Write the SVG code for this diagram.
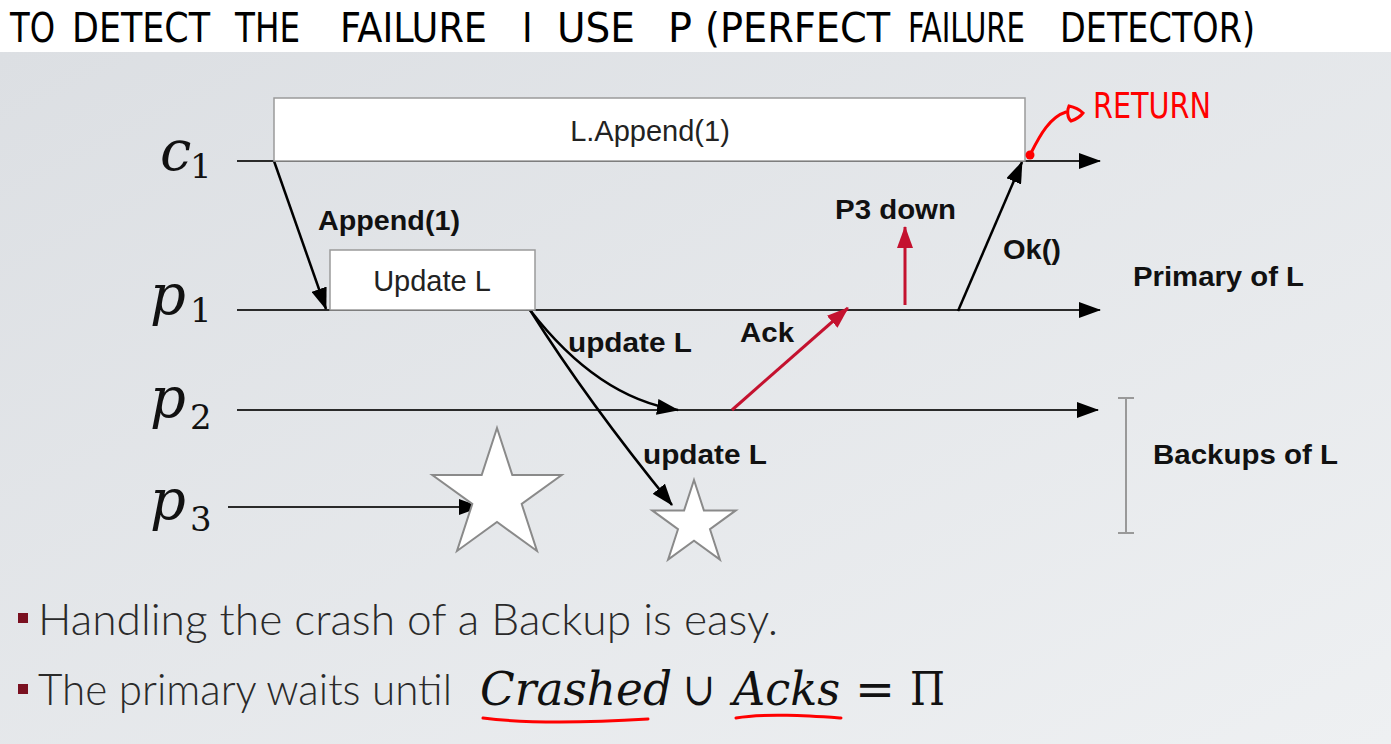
<svg xmlns="http://www.w3.org/2000/svg" width="1391" height="744" viewBox="0 0 1391 744">
<style>
.hand{font-family:"DejaVu Sans Condensed","DejaVu Sans","Liberation Sans",sans-serif;font-size:40px;fill:#000}
.math{font-family:"DejaVu Serif",serif;font-style:italic;fill:#111}
.sub{font-family:"DejaVu Serif",serif;font-style:normal;fill:#111}
.box{fill:#fff;stroke:#9a9a9a;stroke-width:1.5}
.boxt{font-family:"Liberation Sans",Arial,sans-serif;font-size:29px;fill:#222;text-anchor:middle}
.lbl{font-family:"Liberation Sans",Arial,sans-serif;font-size:27px;font-weight:bold;fill:#111}
.life{stroke:#2a2a2a;stroke-width:2;fill:none}
.msg{stroke:#000;stroke-width:2.5;fill:none}
.red{stroke:#c4122f;stroke-width:3;fill:none}
.star{fill:#fff;stroke:#8a8a8a;stroke-width:2}
.bul{font-family:"Lato","Liberation Sans",Arial,sans-serif;font-weight:300;font-size:44px;fill:#2a2a2a}
.pen{stroke:#f00;stroke-width:3;fill:none;stroke-linecap:round}
</style>
<defs>
<linearGradient id="bg" x1="0" y1="0" x2="1" y2="1">
<stop offset="0" stop-color="#dcdfe3"/>
<stop offset="1" stop-color="#eef0f2"/>
</linearGradient>
<marker id="ah" markerUnits="userSpaceOnUse" markerWidth="22" markerHeight="16" refX="21" refY="8" orient="auto"><path d="M0,0 L22,8 L0,16 z" fill="#000"/></marker>
<marker id="ahr" markerUnits="userSpaceOnUse" markerWidth="22" markerHeight="16" refX="21" refY="8" orient="auto"><path d="M0,0 L22,8 L0,16 z" fill="#c4122f"/></marker>
</defs>
<rect x="0" y="0" width="1391" height="52" fill="#fff"/>
<rect x="0" y="52" width="1391" height="692" fill="url(#bg)"/>
<g id="title">
<text class="hand" x="10" y="42" textLength="45" lengthAdjust="spacingAndGlyphs">TO</text>
<text class="hand" x="72" y="42" textLength="138" lengthAdjust="spacingAndGlyphs">DETECT</text>
<text class="hand" x="235" y="42" textLength="65" lengthAdjust="spacingAndGlyphs">THE</text>
<text class="hand" x="340" y="42" textLength="147" lengthAdjust="spacingAndGlyphs">FAILURE</text>
<text class="hand" x="522" y="42">I</text>
<text class="hand" x="557" y="42" textLength="78" lengthAdjust="spacingAndGlyphs">USE</text>
<text class="hand" x="668" y="42" textLength="24" lengthAdjust="spacingAndGlyphs">P</text>
<text class="hand" x="705" y="42" textLength="185" lengthAdjust="spacingAndGlyphs">(PERFECT</text>
<text class="hand" x="908" y="42" textLength="117" lengthAdjust="spacingAndGlyphs">FAILURE</text>
<text class="hand" x="1060" y="42" textLength="195" lengthAdjust="spacingAndGlyphs">DETECTOR)</text>
</g>
<g id="connectors">
<line class="life" x1="237" y1="161" x2="1100" y2="161" marker-end="url(#ah)"/>
<line class="life" x1="237" y1="310" x2="1100" y2="310" marker-end="url(#ah)"/>
<line class="life" x1="237" y1="410" x2="1098" y2="410" marker-end="url(#ah)"/>
<line class="life" x1="228" y1="507" x2="480" y2="507" marker-end="url(#ah)"/>
<line class="msg" x1="274" y1="161" x2="326" y2="309" marker-end="url(#ah)"/>
<path class="msg" d="M530,310 Q598,398 678,410" marker-end="url(#ah)"/>
<path class="msg" d="M530,310 Q588,402 672,505" marker-end="url(#ah)"/>
<line class="red" x1="732" y1="410" x2="848" y2="308" marker-end="url(#ahr)"/>
<line class="red" x1="905" y1="305" x2="905" y2="227" marker-end="url(#ahr)"/>
<line class="msg" x1="958" y1="311" x2="1022" y2="162" marker-end="url(#ah)"/>
</g>
<g id="c1">
<text class="math" x="160" y="170" font-size="56">c</text>
<text class="sub" x="190" y="178" font-size="34">1</text>
</g>
<g id="p1">
<text class="math" x="150" y="314" font-size="56">p</text>
<text class="sub" x="190" y="322" font-size="34">1</text>
</g>
<g id="p2">
<text class="math" x="150" y="417" font-size="56">p</text>
<text class="sub" x="190" y="429" font-size="34">2</text>
</g>
<g id="p3">
<text class="math" x="150" y="519" font-size="56">p</text>
<text class="sub" x="190" y="531" font-size="34">3</text>
</g>
<g id="append-box">
<rect class="box" x="274" y="98" width="751" height="63"/>
<text class="boxt" x="650" y="141">L.Append(1)</text>
</g>
<g id="update-box">
<rect class="box" x="330" y="250" width="205" height="60"/>
<text class="boxt" x="432" y="291">Update L</text>
</g>
<g id="big-star">
<path class="star" d="M497,428 L512.3,475 L561.7,475 L521.7,504 L537,551 L497,522 L457,551 L472.3,504 L432.3,475 L481.7,475 Z"/>
</g>
<g id="small-star">
<path class="star" d="M694,480 L703.9,510.4 L735.8,510.4 L710,529.2 L719.9,559.6 L694,540.8 L668.1,559.6 L678,529.2 L652.2,510.4 L684.1,510.4 Z"/>
</g>
<g id="labels">
<text class="lbl" x="318" y="230" textLength="142" lengthAdjust="spacingAndGlyphs">Append(1)</text>
<text class="lbl" x="568" y="352" textLength="124" lengthAdjust="spacingAndGlyphs">update L</text>
<text class="lbl" x="643" y="464" textLength="124" lengthAdjust="spacingAndGlyphs">update L</text>
<text class="lbl" x="740" y="342" textLength="54" lengthAdjust="spacingAndGlyphs">Ack</text>
<text class="lbl" x="835" y="219" textLength="121" lengthAdjust="spacingAndGlyphs">P3 down</text>
<text class="lbl" x="1003" y="259" textLength="58" lengthAdjust="spacingAndGlyphs">Ok()</text>
<text class="lbl" x="1133" y="286" textLength="171" lengthAdjust="spacingAndGlyphs">Primary of L</text>
<text class="lbl" x="1153" y="464" textLength="185" lengthAdjust="spacingAndGlyphs">Backups of L</text>
</g>
<g id="backups-bracket">
<path d="M1126,398 V533 M1118,398 H1134 M1118,533 H1134" stroke="#999" stroke-width="2" fill="none"/>
</g>
<g id="return-note">
<circle cx="1030" cy="155" r="4.5" fill="#f00"/>
<path class="pen" d="M1031,153 C1040,135 1050,117 1066,112"/>
<path class="pen" d="M1069,106 C1074,107 1080,110 1083,113 C1080,117 1074,120 1071,121 C1067,118 1067,110 1069,106 Z"/>
<text x="1093" y="118" font-family="DejaVu Sans Condensed,DejaVu Sans,sans-serif" font-size="36" fill="#f00" textLength="118" lengthAdjust="spacingAndGlyphs">RETURN</text>
</g>
<g id="bullets">
<rect x="18" y="613" width="10" height="10" fill="#7a1020"/>
<text class="bul" x="38" y="635" textLength="740" lengthAdjust="spacingAndGlyphs">Handling the crash of a Backup is easy.</text>
<rect x="18" y="684" width="10" height="10" fill="#7a1020"/>
<text class="bul" x="38" y="705" textLength="414" lengthAdjust="spacingAndGlyphs">The primary waits until</text>
<text class="math" x="480" y="705" font-size="46" textLength="192" lengthAdjust="spacingAndGlyphs">Crashed</text>
<text class="sub" x="683" y="705" font-size="46" textLength="32" lengthAdjust="spacingAndGlyphs">∪</text>
<text class="math" x="733" y="705" font-size="46" textLength="107" lengthAdjust="spacingAndGlyphs">Acks</text>
<text class="sub" x="855" y="705" font-size="46" textLength="40" lengthAdjust="spacingAndGlyphs">=</text>
<text class="sub" x="910" y="705" font-size="46" textLength="35" lengthAdjust="spacingAndGlyphs">Π</text>
<path class="pen" d="M483,718 C530,724 600,722 648,719"/>
<path class="pen" d="M736,718 C765,713 810,716 841,718"/>
</g>
</svg>
